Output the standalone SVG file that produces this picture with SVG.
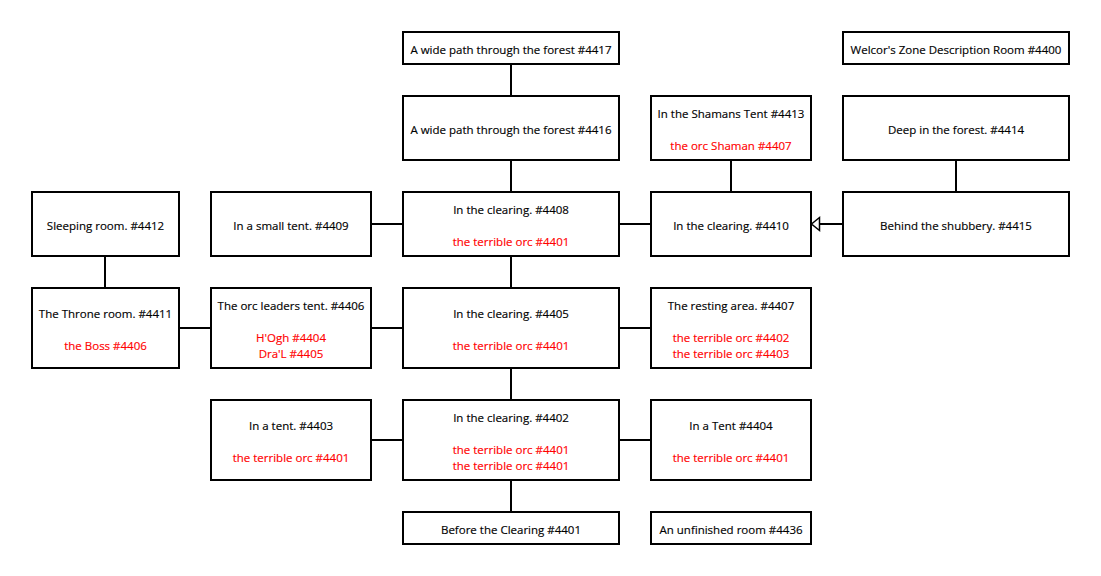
<svg xmlns="http://www.w3.org/2000/svg" width="1101" height="576" viewBox="0 0 1101 576">
<defs>
<style>
rect.n{fill:#fff;stroke:#000;stroke-width:2}
text{font-family:"Open Sans","Noto Sans",sans-serif;font-size:11.5px;text-anchor:middle;fill:#000;stroke:#000;stroke-width:0.15}
text.r{fill:#f00;stroke:#f00}
#edges line{stroke:#000;stroke-width:2}
</style>
</defs>
<rect width="1101" height="576" fill="#fff"/>
<g id="edges">
<line x1="511" y1="64" x2="511" y2="96"/>
<line x1="511" y1="160" x2="511" y2="192"/>
<line x1="511" y1="256" x2="511" y2="288"/>
<line x1="511" y1="368" x2="511" y2="400"/>
<line x1="511" y1="480" x2="511" y2="512"/>
<line x1="371" y1="224" x2="403" y2="224"/>
<line x1="619" y1="224" x2="651" y2="224"/>
<line x1="731" y1="160" x2="731" y2="192"/>
<line x1="956" y1="160" x2="956" y2="192"/>
<line x1="843" y1="224" x2="819" y2="224"/>
<polygon points="811.5,224 819.5,217.5 819.5,230.5" fill="#fff" stroke="#000" stroke-width="1.5"/>
<line x1="105" y1="256" x2="105" y2="288"/>
<line x1="179" y1="328" x2="211" y2="328"/>
<line x1="371" y1="328" x2="403" y2="328"/>
<line x1="619" y1="328" x2="651" y2="328"/>
<line x1="371" y1="440" x2="403" y2="440"/>
<line x1="619" y1="440" x2="651" y2="440"/>
</g>
<g id="n4417"><rect class="n" x="403" y="32" width="216" height="32"/><text x="511" y="54">A wide path through the forest #4417</text></g>
<g id="n4400"><rect class="n" x="843" y="32" width="226" height="32"/><text x="956" y="54">Welcor's Zone Description Room #4400</text></g>
<g id="n4416"><rect class="n" x="403" y="96" width="216" height="64"/><text x="511" y="134">A wide path through the forest #4416</text></g>
<g id="n4413"><rect class="n" x="651" y="96" width="160" height="64"/><text x="731" y="118">In the Shamans Tent #4413</text><text class="r" x="731" y="150">the orc Shaman #4407</text></g>
<g id="n4414"><rect class="n" x="843" y="96" width="226" height="64"/><text x="956" y="134">Deep in the forest. #4414</text></g>
<g id="n4412"><rect class="n" x="32" y="192" width="147" height="64"/><text x="105.5" y="230">Sleeping room. #4412</text></g>
<g id="n4409"><rect class="n" x="211" y="192" width="160" height="64"/><text x="291" y="230">In a small tent. #4409</text></g>
<g id="n4408"><rect class="n" x="403" y="192" width="216" height="64"/><text x="511" y="214">In the clearing. #4408</text><text class="r" x="511" y="246">the terrible orc #4401</text></g>
<g id="n4410"><rect class="n" x="651" y="192" width="160" height="64"/><text x="731" y="230">In the clearing. #4410</text></g>
<g id="n4415"><rect class="n" x="843" y="192" width="226" height="64"/><text x="956" y="230">Behind the shubbery. #4415</text></g>
<g id="n4411"><rect class="n" x="32" y="288" width="147" height="80"/><text x="105.5" y="318">The Throne room. #4411</text><text class="r" x="105.5" y="350">the Boss #4406</text></g>
<g id="n4406"><rect class="n" x="211" y="288" width="160" height="80"/><text x="291" y="310">The orc leaders tent. #4406</text><text class="r" x="291" y="342">H'Ogh #4404</text><text class="r" x="291" y="358">Dra'L #4405</text></g>
<g id="n4405"><rect class="n" x="403" y="288" width="216" height="80"/><text x="511" y="318">In the clearing. #4405</text><text class="r" x="511" y="350">the terrible orc #4401</text></g>
<g id="n4407"><rect class="n" x="651" y="288" width="160" height="80"/><text x="731" y="310">The resting area. #4407</text><text class="r" x="731" y="342">the terrible orc #4402</text><text class="r" x="731" y="358">the terrible orc #4403</text></g>
<g id="n4403"><rect class="n" x="211" y="400" width="160" height="80"/><text x="291" y="430">In a tent. #4403</text><text class="r" x="291" y="462">the terrible orc #4401</text></g>
<g id="n4402"><rect class="n" x="403" y="400" width="216" height="80"/><text x="511" y="422">In the clearing. #4402</text><text class="r" x="511" y="454">the terrible orc #4401</text><text class="r" x="511" y="470">the terrible orc #4401</text></g>
<g id="n4404"><rect class="n" x="651" y="400" width="160" height="80"/><text x="731" y="430">In a Tent #4404</text><text class="r" x="731" y="462">the terrible orc #4401</text></g>
<g id="n4401"><rect class="n" x="403" y="512" width="216" height="32"/><text x="511" y="534">Before the Clearing #4401</text></g>
<g id="n4436"><rect class="n" x="651" y="512" width="160" height="32"/><text x="731" y="534">An unfinished room #4436</text></g>
</svg>
